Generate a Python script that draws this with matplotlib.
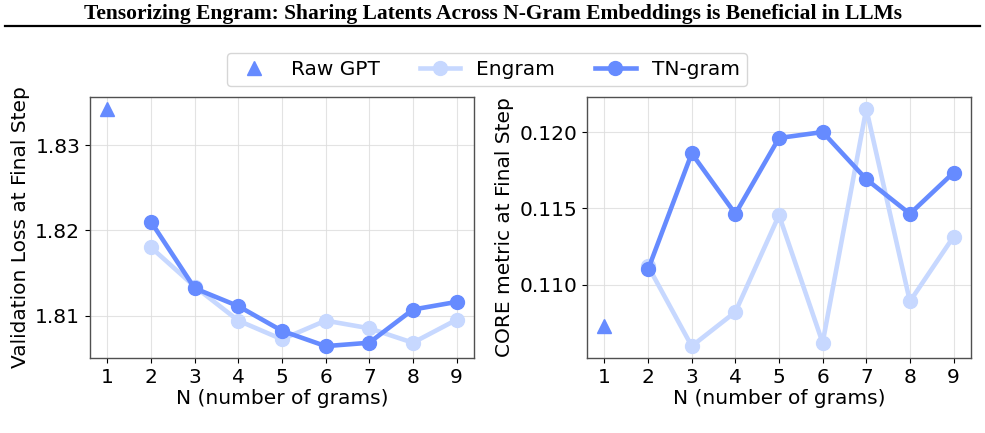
import matplotlib
matplotlib.use("Agg")
import matplotlib.pyplot as plt
from matplotlib.lines import Line2D

# ---- data ----
n_grams = [2, 3, 4, 5, 6, 7, 8, 9]
raw_gpt_n = [1]

loss_raw_gpt = [1.8343]
loss_engram = [1.8180, 1.8134, 1.8094, 1.8072, 1.8094, 1.8085, 1.8068, 1.8095]
loss_tngram = [1.8210, 1.8132, 1.8111, 1.8082, 1.8064, 1.8068, 1.8107, 1.8116]

core_raw_gpt = [0.10732]
core_engram = [0.11121, 0.10597, 0.10821, 0.11455, 0.10619, 0.12152, 0.10890, 0.11314]
core_tngram = [0.11100, 0.11860, 0.11464, 0.11961, 0.12000, 0.11691, 0.11464, 0.11734]

x_ticks = [1, 2, 3, 4, 5, 6, 7, 8, 9]
title = "Tensorizing Engram: Sharing Latents Across N-Gram Embeddings is Beneficial in LLMs"
xlabel = "N (number of grams)"
ylabel_left = "Validation Loss at Final Step"
ylabel_right = "CORE metric at Final Step"

C_TN = "#668bff"
C_EN = "#c7d8ff"

W, H = 985, 433
fig = plt.figure(figsize=(W / 100, H / 100), dpi=100)
plt.rcParams['font.family'] = ['DejaVu Sans']

# page header
fig.text(0.5, 1 - 14 / H, title, ha="center", va="center",
         family="Liberation Serif", fontweight="bold", fontsize=15.5)
fig.add_artist(Line2D([5 / W, 980 / W], [1 - 25.5 / H, 1 - 25.5 / H],
                      color="black", lw=1.6, transform=fig.transFigure))

ax1 = fig.add_axes([90 / W, 1 - 358 / H, 384 / W, 261 / H])
ax2 = fig.add_axes([587 / W, 1 - 358 / H, 384 / W, 261 / H])

def draw(ax, raw, en, tn, ylabel):
    ax.plot(raw_gpt_n, raw, linestyle="none", marker="^", markersize=10,
            color=C_TN, label="Raw GPT", zorder=4)
    ax.plot(n_grams, en, color=C_EN, lw=3.3, marker="o", markersize=10,
            label="Engram", zorder=2)
    ax.plot(n_grams, tn, color=C_TN, lw=3.3, marker="o", markersize=10,
            label="TN-gram", zorder=3)
    ax.set_xticks(x_ticks)
    ax.set_xlabel(xlabel, fontsize=14.5, labelpad=2)
    ax.set_ylabel(ylabel, fontsize=14.5)
    ax.tick_params(labelsize=14.5)
    ax.grid(True, color="#dddddd", lw=0.8, alpha=0.8)
    ax.set_axisbelow(True)
    for s in ax.spines.values():
        s.set_color("#505050")
        s.set_linewidth(1.0)

draw(ax1, loss_raw_gpt, loss_engram, loss_tngram, ylabel_left)
draw(ax2, core_raw_gpt, core_engram, core_tngram, ylabel_right)
ax1.set_yticks([1.81, 1.82, 1.83])
ax2.set_yticks([0.110, 0.115, 0.120])
ax2.yaxis.set_major_formatter(matplotlib.ticker.FormatStrFormatter("%.3f"))

h, l = ax1.get_legend_handles_labels()
fig.legend(h, l, loc="upper center", bbox_to_anchor=(487 / W, 1 - 53 / H),
           ncol=3, fontsize=14.5, frameon=True, columnspacing=2.0,
           handlelength=2.0, borderpad=0.35, borderaxespad=0)

fig.savefig("out.png", dpi=100, facecolor="white")
